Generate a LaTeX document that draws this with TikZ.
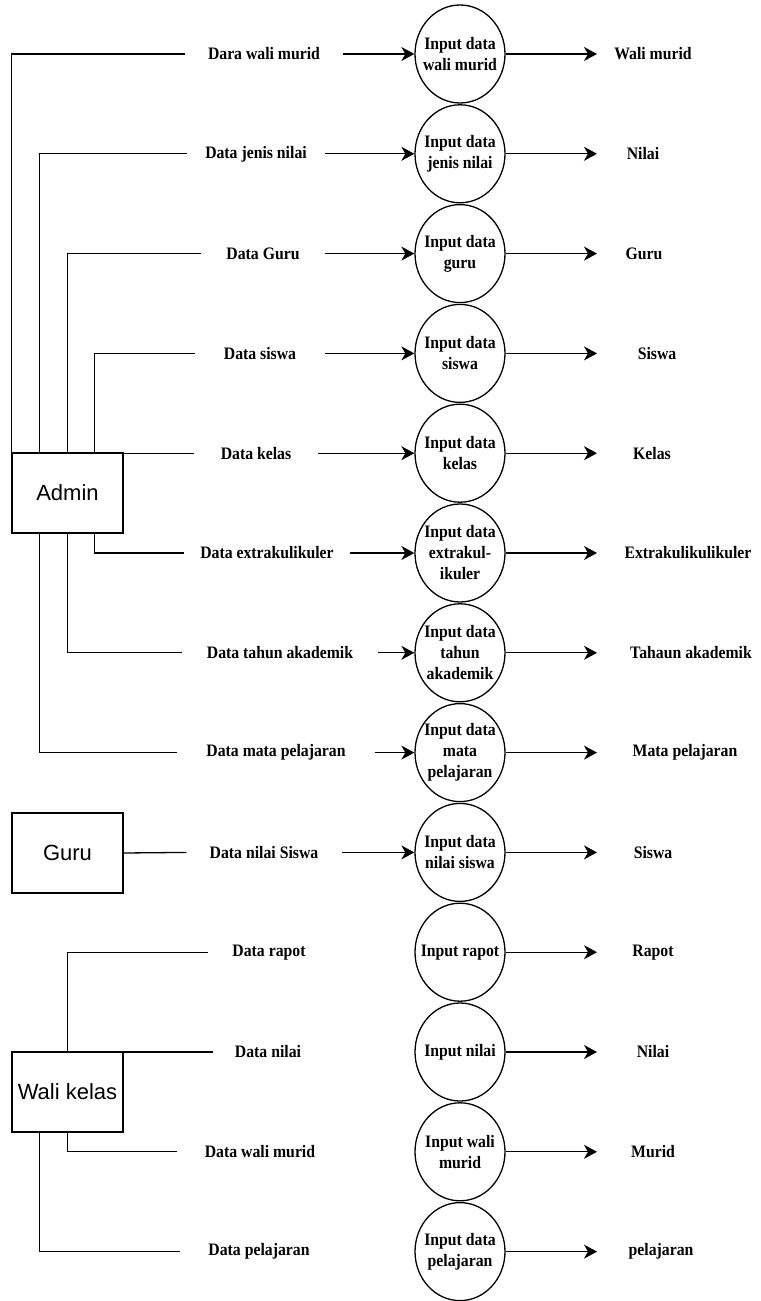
\documentclass[tikz,border=0pt]{standalone}
\usepackage{fontspec}
\setmainfont[FakeStretch=0.9]{Liberation Serif}
\newfontfamily\boxfont{Liberation Sans}
\usetikzlibrary{arrows.meta,shapes.geometric}

\tikzset{
  entity/.style={draw,line width=1.3bp,minimum width=111bp,minimum height=80bp,
    inner sep=0pt,font=\boxfont\fontsize{22bp}{26bp}\selectfont},
  proc/.style={draw,ellipse,line width=1.3bp,minimum width=90bp,minimum height=98bp,inner sep=0pt},
  ptext/.style={align=center,inner sep=0pt,font=\fontsize{17.5bp}{21bp}\selectfont\bfseries},
  dtext/.style={inner xsep=0pt,inner ysep=2pt,font=\fontsize{17.5bp}{20bp}\selectfont\bfseries},
  link/.style={line width=1.3bp},
  flow/.style={line width=1.3bp,-{Stealth[length=13bp,width=14bp,inset=4bp]}}
}

\begin{document}
\begin{tikzpicture}[x=1bp,y=-1bp]
  \useasboundingbox (0,0) rectangle (760,1301);

  \node[entity] (admin) at (67.5,493) {Admin};
  \node[entity] (guru) at (67.5,853) {Guru};
  \node[entity] (wali) at (67.5,1092) {Wali kelas};

  \foreach[count=\i,evaluate={54+99.8*(\i-1)} as \y] \lx/\lw/\ltxt/\ptxt/\rx/\rtxt in {
    264/158/{Dara wali murid}/{Input data\\wali murid}/653/{Wali murid},
    256/138/{Data jenis nilai}/{Input data\\jenis nilai}/643/{Nilai},
    263/123/{Data Guru}/{Input data\\guru}/644/{Guru},
    260/130/{Data siswa}/{Input data\\siswa}/657/{Siswa},
    256/123/{Data kelas}/{Input data\\kelas}/652/{Kelas},
    267/165/{Data extrakulikuler}/{Input data\\extrakul-\\ikuler}/688/{Extrakulikulikuler},
    280/196/{Data tahun akademik}/{Input data\\tahun\\akademik}/691/{Tahaun akademik},
    276/197/{Data mata pelajaran}/{Input data\\mata\\pelajaran}/685/{Mata pelajaran},
    264/155/{Data nilai Siswa}/{Input data\\nilai siswa}/653/{Siswa},
    269/122/{Data rapot}/{Input rapot}/653/{Rapot},
    268/110/{Data nilai}/{Input nilai}/653/{Nilai},
    260/166/{Data wali murid}/{Input wali\\murid}/653/{Murid},
    259/158/{Data pelajaran}/{Input data\\pelajaran}/661/{pelajaran}} {
    \node[dtext,minimum width=\lw*1bp] (l\i) at (\lx,\y) {\ltxt};
    \node[proc] (p\i) at (460,\y) {};
    \node[ptext] at (p\i) {\ptxt};
    \coordinate (t\i) at (597,\y);
    \node[dtext] (r\i) at (\rx,\y) {\rtxt};
    \ifnum\i<10
      \draw[flow] (l\i.east) -- (p\i.west);
    \fi
    \draw[flow] (p\i.east) -- (t\i);
  }

  % admin
  \draw[link] (admin.north west) |- (l1.west);
  \draw[link] ([xshift=28bp]admin.north west) |- (l2.west);
  \draw[link] ([xshift=56bp]admin.north west) |- (l3.west);
  \draw[link] ([xshift=83bp]admin.north west) |- (l4.west);
  \draw[link] (admin.north east) |- (l5.west);
  \draw[link] ([xshift=83bp]admin.south west) |- (l6.west);
  \draw[link] ([xshift=56bp]admin.south west) |- (l7.west);
  \draw[link] ([xshift=28bp]admin.south west) |- (l8.west);

  % guru
  \draw[link] (guru.east) -- (l9.west);

  % wali kelas
  \draw[link] ([xshift=56bp]wali.north west) |- (l10.west);
  \draw[link] (wali.north east) |- (l11.west);
  \draw[link] ([xshift=56bp]wali.south west) |- (l12.west);
  \draw[link] ([xshift=28bp]wali.south west) |- (l13.west);
\end{tikzpicture}
\end{document}
